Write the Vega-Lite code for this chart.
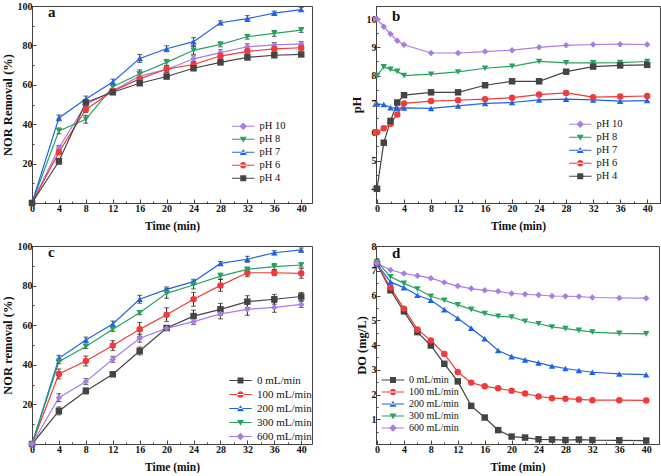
{
"$schema": "https://vega.github.io/schema/vega-lite/v6.json",
"padding": {"left": 0, "top": 0, "right": 0, "bottom": 0},
"columns": 2,
"bounds": "flush",
"spacing": {"row": 43, "column": 64},
"config": {
  "font": "Liberation Serif",
  "view": {"stroke": "#444", "strokeWidth": 1},
  "axis": {"grid": false, "labelFont": "Liberation Serif", "labelFontWeight": "bold", "labelFontSize": 10, "labelColor": "#111", "titleFont": "Liberation Serif", "titleFontWeight": "bold", "titleColor": "#111", "domainColor": "#444", "tickColor": "#444", "labelFlush": false, "labelOverlap": false, "labelBound": false},
  "axisX": {"titleFontSize": 11.5, "labelPadding": 4, "titlePadding": 5},
  "axisY": {"titleFontSize": 12.5, "labelPadding": 4, "titlePadding": 3},
  "legend": {"labelFont": "Liberation Serif", "labelColor": "#111", "title": null, "padding": 0, "symbolStrokeWidth": 0, "symbolSize": 49, "labelOffset": 11, "rowPadding": 2},
  "title": {"font": "Liberation Serif", "fontWeight": "bold", "fontSize": 15, "color": "#111", "anchor": "start", "frame": "group"}
},
"datasets": {
"a": [
{"s":"pH 10","t":0,"v":0,"e":0},{"s":"pH 10","t":4,"v":28,"e":1.2},{"s":"pH 10","t":8,"v":50,"e":1.5},{"s":"pH 10","t":12,"v":57,"e":1},{"s":"pH 10","t":16,"v":64.4,"e":1.5},{"s":"pH 10","t":20,"v":67.8,"e":1.5},{"s":"pH 10","t":24,"v":73.2,"e":1.5},{"s":"pH 10","t":28,"v":76.3,"e":1.5},{"s":"pH 10","t":32,"v":79.3,"e":1.5},{"s":"pH 10","t":36,"v":80.3,"e":1.2},{"s":"pH 10","t":40,"v":80.8,"e":1.2},
{"s":"pH 8","t":0,"v":0,"e":0},{"s":"pH 8","t":4,"v":36.6,"e":1.5},{"s":"pH 8","t":8,"v":42.5,"e":2},{"s":"pH 8","t":12,"v":59,"e":1},{"s":"pH 8","t":16,"v":65.6,"e":2},{"s":"pH 8","t":20,"v":71.4,"e":1.5},{"s":"pH 8","t":24,"v":77.5,"e":2},{"s":"pH 8","t":28,"v":80.5,"e":1.2},{"s":"pH 8","t":32,"v":84.4,"e":1.2},{"s":"pH 8","t":36,"v":86.1,"e":1.5},{"s":"pH 8","t":40,"v":87.8,"e":1.2},
{"s":"pH 7","t":0,"v":0,"e":0},{"s":"pH 7","t":4,"v":43.2,"e":1.5},{"s":"pH 7","t":8,"v":52.8,"e":1.5},{"s":"pH 7","t":12,"v":61.4,"e":1.5},{"s":"pH 7","t":16,"v":73.4,"e":2},{"s":"pH 7","t":20,"v":78.3,"e":1.5},{"s":"pH 7","t":24,"v":81.9,"e":2},{"s":"pH 7","t":28,"v":91.5,"e":1},{"s":"pH 7","t":32,"v":93.6,"e":1.5},{"s":"pH 7","t":36,"v":96.4,"e":1},{"s":"pH 7","t":40,"v":98.2,"e":1},
{"s":"pH 6","t":0,"v":0,"e":0},{"s":"pH 6","t":4,"v":25.8,"e":1.2},{"s":"pH 6","t":8,"v":47.5,"e":1.5},{"s":"pH 6","t":12,"v":56.8,"e":1},{"s":"pH 6","t":16,"v":63,"e":1.2},{"s":"pH 6","t":20,"v":68,"e":1.5},{"s":"pH 6","t":24,"v":70.3,"e":1.5},{"s":"pH 6","t":28,"v":74.6,"e":1.5},{"s":"pH 6","t":32,"v":77,"e":1.5},{"s":"pH 6","t":36,"v":78.2,"e":1.2},{"s":"pH 6","t":40,"v":78.8,"e":1.2},
{"s":"pH 4","t":0,"v":0,"e":0},{"s":"pH 4","t":4,"v":21.2,"e":1.5},{"s":"pH 4","t":8,"v":51,"e":1.5},{"s":"pH 4","t":12,"v":56.2,"e":1},{"s":"pH 4","t":16,"v":60.8,"e":1},{"s":"pH 4","t":20,"v":64.2,"e":1.2},{"s":"pH 4","t":24,"v":68.4,"e":1.2},{"s":"pH 4","t":28,"v":71.4,"e":1.2},{"s":"pH 4","t":32,"v":73.9,"e":1.2},{"s":"pH 4","t":36,"v":75,"e":1},{"s":"pH 4","t":40,"v":75.4,"e":1}
],
"b": [
{"s":"pH 10","t":0,"v":10},{"s":"pH 10","t":1,"v":9.73},{"s":"pH 10","t":2,"v":9.47},{"s":"pH 10","t":3,"v":9.23},{"s":"pH 10","t":4,"v":9.09},{"s":"pH 10","t":8,"v":8.8},{"s":"pH 10","t":12,"v":8.8},{"s":"pH 10","t":16,"v":8.85},{"s":"pH 10","t":20,"v":8.9},{"s":"pH 10","t":24,"v":9.0},{"s":"pH 10","t":28,"v":9.07},{"s":"pH 10","t":32,"v":9.1},{"s":"pH 10","t":36,"v":9.11},{"s":"pH 10","t":40,"v":9.1},
{"s":"pH 8","t":0,"v":8.0},{"s":"pH 8","t":1,"v":8.31},{"s":"pH 8","t":2,"v":8.22},{"s":"pH 8","t":3,"v":8.15},{"s":"pH 8","t":4,"v":8.0},{"s":"pH 8","t":8,"v":8.05},{"s":"pH 8","t":12,"v":8.13},{"s":"pH 8","t":16,"v":8.26},{"s":"pH 8","t":20,"v":8.33},{"s":"pH 8","t":24,"v":8.5},{"s":"pH 8","t":28,"v":8.45},{"s":"pH 8","t":32,"v":8.45},{"s":"pH 8","t":36,"v":8.46},{"s":"pH 8","t":40,"v":8.5},
{"s":"pH 7","t":0,"v":7.0},{"s":"pH 7","t":1,"v":6.98},{"s":"pH 7","t":2,"v":6.87},{"s":"pH 7","t":3,"v":6.85},{"s":"pH 7","t":4,"v":6.86},{"s":"pH 7","t":8,"v":6.84},{"s":"pH 7","t":12,"v":6.93},{"s":"pH 7","t":16,"v":7.02},{"s":"pH 7","t":20,"v":7.05},{"s":"pH 7","t":24,"v":7.14},{"s":"pH 7","t":28,"v":7.17},{"s":"pH 7","t":32,"v":7.14},{"s":"pH 7","t":36,"v":7.1},{"s":"pH 7","t":40,"v":7.12},
{"s":"pH 6","t":0,"v":6.0},{"s":"pH 6","t":1,"v":6.14},{"s":"pH 6","t":2,"v":6.3},{"s":"pH 6","t":3,"v":6.63},{"s":"pH 6","t":4,"v":7.02},{"s":"pH 6","t":8,"v":7.1},{"s":"pH 6","t":12,"v":7.13},{"s":"pH 6","t":16,"v":7.17},{"s":"pH 6","t":20,"v":7.22},{"s":"pH 6","t":24,"v":7.33},{"s":"pH 6","t":28,"v":7.39},{"s":"pH 6","t":32,"v":7.24},{"s":"pH 6","t":36,"v":7.26},{"s":"pH 6","t":40,"v":7.28},
{"s":"pH 4","t":0,"v":4.0},{"s":"pH 4","t":1,"v":5.63},{"s":"pH 4","t":2,"v":6.4},{"s":"pH 4","t":3,"v":7.05},{"s":"pH 4","t":4,"v":7.31},{"s":"pH 4","t":8,"v":7.41},{"s":"pH 4","t":12,"v":7.41},{"s":"pH 4","t":16,"v":7.66},{"s":"pH 4","t":20,"v":7.8},{"s":"pH 4","t":24,"v":7.8},{"s":"pH 4","t":28,"v":8.14},{"s":"pH 4","t":32,"v":8.32},{"s":"pH 4","t":36,"v":8.36},{"s":"pH 4","t":40,"v":8.38}
],
"c": [
{"s":"0 mL/min","t":0,"v":0,"e":0},{"s":"0 mL/min","t":4,"v":16.7,"e":2},{"s":"0 mL/min","t":8,"v":26.8,"e":1.5},{"s":"0 mL/min","t":12,"v":35.2,"e":1},{"s":"0 mL/min","t":16,"v":47,"e":2},{"s":"0 mL/min","t":20,"v":58.6,"e":1.2},{"s":"0 mL/min","t":24,"v":64.6,"e":3},{"s":"0 mL/min","t":28,"v":68,"e":3},{"s":"0 mL/min","t":32,"v":71.9,"e":3},{"s":"0 mL/min","t":36,"v":73.1,"e":2.5},{"s":"0 mL/min","t":40,"v":74.5,"e":2},
{"s":"100 mL/min","t":0,"v":0,"e":0},{"s":"100 mL/min","t":4,"v":35.4,"e":2.5},{"s":"100 mL/min","t":8,"v":41.9,"e":2.5},{"s":"100 mL/min","t":12,"v":49.7,"e":2.5},{"s":"100 mL/min","t":16,"v":57.9,"e":3.5},{"s":"100 mL/min","t":20,"v":65.3,"e":3.5},{"s":"100 mL/min","t":24,"v":73.1,"e":3.5},{"s":"100 mL/min","t":28,"v":80.1,"e":3},{"s":"100 mL/min","t":32,"v":86.5,"e":2},{"s":"100 mL/min","t":36,"v":86.5,"e":1.5},{"s":"100 mL/min","t":40,"v":86.2,"e":2.5},
{"s":"200 mL/min","t":0,"v":0,"e":0},{"s":"200 mL/min","t":4,"v":43.3,"e":1.5},{"s":"200 mL/min","t":8,"v":52.5,"e":1.5},{"s":"200 mL/min","t":12,"v":60.6,"e":1.5},{"s":"200 mL/min","t":16,"v":73.1,"e":2},{"s":"200 mL/min","t":20,"v":78.1,"e":1.2},{"s":"200 mL/min","t":24,"v":82,"e":1.2},{"s":"200 mL/min","t":28,"v":91.2,"e":1},{"s":"200 mL/min","t":32,"v":93.3,"e":1.5},{"s":"200 mL/min","t":36,"v":96.6,"e":1},{"s":"200 mL/min","t":40,"v":98,"e":1},
{"s":"300 mL/min","t":0,"v":0,"e":0},{"s":"300 mL/min","t":4,"v":41.6,"e":1},{"s":"300 mL/min","t":8,"v":49.2,"e":1},{"s":"300 mL/min","t":12,"v":57.9,"e":1},{"s":"300 mL/min","t":16,"v":66.3,"e":1},{"s":"300 mL/min","t":20,"v":76.1,"e":2.5},{"s":"300 mL/min","t":24,"v":80.3,"e":2},{"s":"300 mL/min","t":28,"v":84.8,"e":1.5},{"s":"300 mL/min","t":32,"v":88.2,"e":1},{"s":"300 mL/min","t":36,"v":89.6,"e":1.5},{"s":"300 mL/min","t":40,"v":90.4,"e":1},
{"s":"600 mL/min","t":0,"v":0,"e":0},{"s":"600 mL/min","t":4,"v":23.4,"e":2},{"s":"600 mL/min","t":8,"v":31.5,"e":1.5},{"s":"600 mL/min","t":12,"v":42.8,"e":1.5},{"s":"600 mL/min","t":16,"v":53.4,"e":2},{"s":"600 mL/min","t":20,"v":58.4,"e":1},{"s":"600 mL/min","t":24,"v":61.8,"e":1.5},{"s":"600 mL/min","t":28,"v":65.7,"e":2.5},{"s":"600 mL/min","t":32,"v":68,"e":3},{"s":"600 mL/min","t":36,"v":69,"e":2.5},{"s":"600 mL/min","t":40,"v":70.5,"e":1.5}
],
"d": [
{"s":"0 mL/min","t":0,"v":7.27},{"s":"0 mL/min","t":2,"v":6.21},{"s":"0 mL/min","t":4,"v":5.36},{"s":"0 mL/min","t":6,"v":4.52},{"s":"0 mL/min","t":8,"v":3.98},{"s":"0 mL/min","t":10,"v":3.24},{"s":"0 mL/min","t":12,"v":2.53},{"s":"0 mL/min","t":14,"v":1.54},{"s":"0 mL/min","t":16,"v":1.07},{"s":"0 mL/min","t":18,"v":0.56},{"s":"0 mL/min","t":20,"v":0.3},{"s":"0 mL/min","t":22,"v":0.26},{"s":"0 mL/min","t":24,"v":0.19},{"s":"0 mL/min","t":26,"v":0.18},{"s":"0 mL/min","t":28,"v":0.16},{"s":"0 mL/min","t":30,"v":0.18},{"s":"0 mL/min","t":32,"v":0.16},{"s":"0 mL/min","t":36,"v":0.15},{"s":"0 mL/min","t":40,"v":0.14},
{"s":"100 mL/min","t":0,"v":7.27},{"s":"100 mL/min","t":2,"v":6.32},{"s":"100 mL/min","t":4,"v":5.47},{"s":"100 mL/min","t":6,"v":4.63},{"s":"100 mL/min","t":8,"v":4.18},{"s":"100 mL/min","t":10,"v":3.64},{"s":"100 mL/min","t":12,"v":2.91},{"s":"100 mL/min","t":14,"v":2.48},{"s":"100 mL/min","t":16,"v":2.33},{"s":"100 mL/min","t":18,"v":2.25},{"s":"100 mL/min","t":20,"v":2.15},{"s":"100 mL/min","t":22,"v":2.04},{"s":"100 mL/min","t":24,"v":1.92},{"s":"100 mL/min","t":26,"v":1.85},{"s":"100 mL/min","t":28,"v":1.83},{"s":"100 mL/min","t":30,"v":1.8},{"s":"100 mL/min","t":32,"v":1.77},{"s":"100 mL/min","t":36,"v":1.77},{"s":"100 mL/min","t":40,"v":1.76},
{"s":"200 mL/min","t":0,"v":7.27},{"s":"200 mL/min","t":2,"v":6.55},{"s":"200 mL/min","t":4,"v":6.32},{"s":"200 mL/min","t":6,"v":6.01},{"s":"200 mL/min","t":8,"v":5.81},{"s":"200 mL/min","t":10,"v":5.43},{"s":"200 mL/min","t":12,"v":5.08},{"s":"200 mL/min","t":14,"v":4.68},{"s":"200 mL/min","t":16,"v":4.25},{"s":"200 mL/min","t":18,"v":3.78},{"s":"200 mL/min","t":20,"v":3.53},{"s":"200 mL/min","t":22,"v":3.4},{"s":"200 mL/min","t":24,"v":3.28},{"s":"200 mL/min","t":26,"v":3.15},{"s":"200 mL/min","t":28,"v":3.05},{"s":"200 mL/min","t":30,"v":2.97},{"s":"200 mL/min","t":32,"v":2.9},{"s":"200 mL/min","t":36,"v":2.83},{"s":"200 mL/min","t":40,"v":2.8},
{"s":"300 mL/min","t":0,"v":7.37},{"s":"300 mL/min","t":2,"v":6.76},{"s":"300 mL/min","t":4,"v":6.49},{"s":"300 mL/min","t":6,"v":6.26},{"s":"300 mL/min","t":8,"v":5.97},{"s":"300 mL/min","t":10,"v":5.81},{"s":"300 mL/min","t":12,"v":5.62},{"s":"300 mL/min","t":14,"v":5.44},{"s":"300 mL/min","t":16,"v":5.27},{"s":"300 mL/min","t":18,"v":5.16},{"s":"300 mL/min","t":20,"v":5.13},{"s":"300 mL/min","t":22,"v":4.96},{"s":"300 mL/min","t":24,"v":4.86},{"s":"300 mL/min","t":26,"v":4.73},{"s":"300 mL/min","t":28,"v":4.66},{"s":"300 mL/min","t":30,"v":4.59},{"s":"300 mL/min","t":32,"v":4.52},{"s":"300 mL/min","t":36,"v":4.47},{"s":"300 mL/min","t":40,"v":4.45},
{"s":"600 mL/min","t":0,"v":7.3},{"s":"600 mL/min","t":2,"v":7.03},{"s":"600 mL/min","t":4,"v":6.89},{"s":"600 mL/min","t":6,"v":6.8},{"s":"600 mL/min","t":8,"v":6.7},{"s":"600 mL/min","t":10,"v":6.53},{"s":"600 mL/min","t":12,"v":6.38},{"s":"600 mL/min","t":14,"v":6.28},{"s":"600 mL/min","t":16,"v":6.21},{"s":"600 mL/min","t":18,"v":6.17},{"s":"600 mL/min","t":20,"v":6.08},{"s":"600 mL/min","t":22,"v":6.05},{"s":"600 mL/min","t":24,"v":6.02},{"s":"600 mL/min","t":26,"v":5.98},{"s":"600 mL/min","t":28,"v":5.97},{"s":"600 mL/min","t":30,"v":5.96},{"s":"600 mL/min","t":32,"v":5.92},{"s":"600 mL/min","t":36,"v":5.9},{"s":"600 mL/min","t":40,"v":5.89}
]
},
"concat": [
{
 "width": 280, "height": 197,
 "title": {"text": "a", "offset": -19, "dx": 16},
 "data": {"name": "a"},
 "encoding": {
  "x": {"field": "t", "type": "quantitative", "title": "Time (min)", "scale": {"domain": [0, 41.6], "nice": false, "zero": false}, "axis": {"values": [0,2,4,6,8,10,12,14,16,18,20,22,24,26,28,30,32,34,36,38,40], "labelExpr": "datum.value % 4 === 0 ? datum.label : ''", "tickSize": {"condition": {"test": "datum.value % 4 === 0", "value": -4}, "value": -2}}},
  "y": {"field": "v", "type": "quantitative", "title": "NOR Removal (%)", "scale": {"domain": [0, 100], "nice": false}, "axis": {"values": [0,10,20,30,40,50,60,70,80,90,100], "labelExpr": "datum.value % 20 === 0 && datum.value > 0 ? datum.label : ''", "tickSize": {"condition": {"test": "datum.value % 20 === 0", "value": -4}, "value": -2}}}
 },
 "layer": [
  {"mark": {"type": "line", "strokeWidth": 1.2}, "encoding": {"color": {"field": "s", "type": "nominal", "scale": {"domain": ["pH 10","pH 8","pH 7","pH 6","pH 4"], "range": ["#A97CE4","#27A25F","#1F64E6","#F23A3A","#444444"]}, "legend": null}}},
  {"mark": {"type": "errorbar", "ticks": true, "color": "#222", "thickness": 1}, "encoding": {"yError": {"field": "e"}}},
  {"mark": {"type": "point", "filled": true, "size": 42, "opacity": 1}, "encoding": {"color": {"field": "s", "type": "nominal", "scale": {"domain": ["pH 10","pH 8","pH 7","pH 6","pH 4"], "range": ["#A97CE4","#27A25F","#1F64E6","#F23A3A","#444444"]}, "legend": null}, "shape": {"field": "s", "type": "nominal", "scale": {"domain": ["pH 10","pH 8","pH 7","pH 6","pH 4"], "range": ["diamond","triangle-down","triangle-up","circle","square"]}, "legend": null}}},
  {"transform": [{"filter": "false"}], "mark": {"type": "point", "filled": true, "opacity": 1}, "encoding": {
    "color": {"field": "s", "type": "nominal", "scale": {"domain": ["pH 10","pH 8","pH 7","pH 6","pH 4"], "range": ["#A97CE4","#27A25F","#1F64E6","#F23A3A","#444444"]}, "legend": {"orient": "none", "legendX": 206, "legendY": 115, "labelFontSize": 10.5}},
    "shape": {"field": "s", "type": "nominal", "scale": {"domain": ["pH 10","pH 8","pH 7","pH 6","pH 4"], "range": ["M-3.2,-0.17L3.2,-0.17L3.2,0.17L-3.2,0.17Z M0,-1.1L1.1,0L0,1.1L-1.1,0Z", "M-3.2,-0.17L3.2,-0.17L3.2,0.17L-3.2,0.17Z M-1,-0.75L1,-0.75L0,0.95Z", "M-3.2,-0.17L3.2,-0.17L3.2,0.17L-3.2,0.17Z M-1,0.75L1,0.75L0,-0.95Z", "M-3.2,-0.17L3.2,-0.17L3.2,0.17L-3.2,0.17Z M-0.95,0A0.95,0.95 0 1,0 0.95,0A0.95,0.95 0 1,0 -0.95,0Z", "M-3.2,-0.17L3.2,-0.17L3.2,0.17L-3.2,0.17Z M-0.85,-0.85L0.85,-0.85L0.85,0.85L-0.85,0.85Z"]}, "legend": {"orient": "none", "legendX": 206, "legendY": 115, "labelFontSize": 10.5}}
  }}
 ],
 "resolve": {"scale": {"color": "independent", "shape": "independent"}}
},
{
 "width": 284, "height": 197,
 "title": {"text": "b", "offset": -18, "dx": 16},
 "data": {"name": "b"},
 "encoding": {
  "x": {"field": "t", "type": "quantitative", "title": "Time (min)", "scale": {"domain": [-0.15, 41.9], "nice": false, "zero": false}, "axis": {"values": [0,2,4,6,8,10,12,14,16,18,20,22,24,26,28,30,32,34,36,38,40], "labelExpr": "datum.value % 4 === 0 ? datum.label : ''", "tickSize": {"condition": {"test": "datum.value % 4 === 0", "value": -4}, "value": -2}}},
  "y": {"field": "v", "type": "quantitative", "title": "pH", "scale": {"domain": [3.5, 10.46], "nice": false, "zero": false}, "axis": {"values": [4,4.5,5,5.5,6,6.5,7,7.5,8,8.5,9,9.5,10], "labelExpr": "datum.value % 1 === 0 ? format(datum.value, 'd') : ''", "tickSize": {"condition": {"test": "datum.value % 1 === 0", "value": -4}, "value": -2}}}
 },
 "layer": [
  {"mark": {"type": "line", "strokeWidth": 1.2}, "encoding": {"color": {"field": "s", "type": "nominal", "scale": {"domain": ["pH 10","pH 8","pH 7","pH 6","pH 4"], "range": ["#A97CE4","#27A25F","#1F64E6","#F23A3A","#444444"]}, "legend": null}}},
  {"mark": {"type": "point", "filled": true, "size": 42, "opacity": 1}, "encoding": {"color": {"field": "s", "type": "nominal", "scale": {"domain": ["pH 10","pH 8","pH 7","pH 6","pH 4"], "range": ["#A97CE4","#27A25F","#1F64E6","#F23A3A","#444444"]}, "legend": null}, "shape": {"field": "s", "type": "nominal", "scale": {"domain": ["pH 10","pH 8","pH 7","pH 6","pH 4"], "range": ["diamond","triangle-down","triangle-up","circle","square"]}, "legend": null}}},
  {"transform": [{"filter": "false"}], "mark": {"type": "point", "filled": true, "opacity": 1}, "encoding": {
    "color": {"field": "s", "type": "nominal", "scale": {"domain": ["pH 10","pH 8","pH 7","pH 6","pH 4"], "range": ["#A97CE4","#27A25F","#1F64E6","#F23A3A","#444444"]}, "legend": {"orient": "none", "legendX": 199, "legendY": 113, "labelFontSize": 10.5}},
    "shape": {"field": "s", "type": "nominal", "scale": {"domain": ["pH 10","pH 8","pH 7","pH 6","pH 4"], "range": ["M-3.2,-0.17L3.2,-0.17L3.2,0.17L-3.2,0.17Z M0,-1.1L1.1,0L0,1.1L-1.1,0Z", "M-3.2,-0.17L3.2,-0.17L3.2,0.17L-3.2,0.17Z M-1,-0.75L1,-0.75L0,0.95Z", "M-3.2,-0.17L3.2,-0.17L3.2,0.17L-3.2,0.17Z M-1,0.75L1,0.75L0,-0.95Z", "M-3.2,-0.17L3.2,-0.17L3.2,0.17L-3.2,0.17Z M-0.95,0A0.95,0.95 0 1,0 0.95,0A0.95,0.95 0 1,0 -0.95,0Z", "M-3.2,-0.17L3.2,-0.17L3.2,0.17L-3.2,0.17Z M-0.85,-0.85L0.85,-0.85L0.85,0.85L-0.85,0.85Z"]}, "legend": {"orient": "none", "legendX": 199, "legendY": 113, "labelFontSize": 10.5}}
  }}
 ],
 "resolve": {"scale": {"color": "independent", "shape": "independent"}}
},
{
 "width": 280, "height": 198,
 "title": {"text": "c", "offset": -19, "dx": 16},
 "data": {"name": "c"},
 "encoding": {
  "x": {"field": "t", "type": "quantitative", "title": "Time (min)", "scale": {"domain": [0, 41.6], "nice": false, "zero": false}, "axis": {"values": [0,2,4,6,8,10,12,14,16,18,20,22,24,26,28,30,32,34,36,38,40], "labelExpr": "datum.value % 4 === 0 ? datum.label : ''", "tickSize": {"condition": {"test": "datum.value % 4 === 0", "value": -4}, "value": -2}}},
  "y": {"field": "v", "type": "quantitative", "title": "NOR removal (%)", "scale": {"domain": [0, 100], "nice": false}, "axis": {"values": [0,10,20,30,40,50,60,70,80,90,100], "labelExpr": "datum.value % 20 === 0 && datum.value > 0 ? datum.label : ''", "tickSize": {"condition": {"test": "datum.value % 20 === 0", "value": -4}, "value": -2}}}
 },
 "layer": [
  {"mark": {"type": "line", "strokeWidth": 1.2}, "encoding": {"color": {"field": "s", "type": "nominal", "scale": {"domain": ["0 mL/min","100 mL/min","200 mL/min","300 mL/min","600 mL/min"], "range": ["#444444","#F23A3A","#1F64E6","#27A25F","#A97CE4"]}, "legend": null}}},
  {"mark": {"type": "errorbar", "ticks": true, "color": "#222", "thickness": 1}, "encoding": {"yError": {"field": "e"}}},
  {"mark": {"type": "point", "filled": true, "size": 42, "opacity": 1}, "encoding": {"color": {"field": "s", "type": "nominal", "scale": {"domain": ["0 mL/min","100 mL/min","200 mL/min","300 mL/min","600 mL/min"], "range": ["#444444","#F23A3A","#1F64E6","#27A25F","#A97CE4"]}, "legend": null}, "shape": {"field": "s", "type": "nominal", "scale": {"domain": ["0 mL/min","100 mL/min","200 mL/min","300 mL/min","600 mL/min"], "range": ["square","circle","triangle-up","triangle-down","diamond"]}, "legend": null}}},
  {"transform": [{"filter": "false"}], "mark": {"type": "point", "filled": true, "opacity": 1}, "encoding": {
    "color": {"field": "s", "type": "nominal", "scale": {"domain": ["0 mL/min","100 mL/min","200 mL/min","300 mL/min","600 mL/min"], "range": ["#444444","#F23A3A","#1F64E6","#27A25F","#A97CE4"]}, "legend": {"orient": "none", "legendX": 203, "legendY": 129, "labelFontSize": 11}},
    "shape": {"field": "s", "type": "nominal", "scale": {"domain": ["0 mL/min","100 mL/min","200 mL/min","300 mL/min","600 mL/min"], "range": ["M-3.2,-0.17L3.2,-0.17L3.2,0.17L-3.2,0.17Z M-0.85,-0.85L0.85,-0.85L0.85,0.85L-0.85,0.85Z", "M-3.2,-0.17L3.2,-0.17L3.2,0.17L-3.2,0.17Z M-0.95,0A0.95,0.95 0 1,0 0.95,0A0.95,0.95 0 1,0 -0.95,0Z", "M-3.2,-0.17L3.2,-0.17L3.2,0.17L-3.2,0.17Z M-1,0.75L1,0.75L0,-0.95Z", "M-3.2,-0.17L3.2,-0.17L3.2,0.17L-3.2,0.17Z M-1,-0.75L1,-0.75L0,0.95Z", "M-3.2,-0.17L3.2,-0.17L3.2,0.17L-3.2,0.17Z M0,-1.1L1.1,0L0,1.1L-1.1,0Z"]}, "legend": {"orient": "none", "legendX": 203, "legendY": 129, "labelFontSize": 11}}
  }}
 ],
 "resolve": {"scale": {"color": "independent", "shape": "independent"}}
},
{
 "width": 283, "height": 198,
 "title": {"text": "d", "offset": -20, "dx": 16},
 "data": {"name": "d"},
 "encoding": {
  "x": {"field": "t", "type": "quantitative", "title": "Time (min)", "scale": {"domain": [-0.15, 41.9], "nice": false, "zero": false}, "axis": {"values": [0,2,4,6,8,10,12,14,16,18,20,22,24,26,28,30,32,34,36,38,40], "labelExpr": "datum.value % 4 === 0 ? datum.label : ''", "tickSize": {"condition": {"test": "datum.value % 4 === 0", "value": -4}, "value": -2}}},
  "y": {"field": "v", "type": "quantitative", "title": "DO (mg/L)", "scale": {"domain": [0, 8], "nice": false}, "axis": {"values": [0,0.5,1,1.5,2,2.5,3,3.5,4,4.5,5,5.5,6,6.5,7,7.5,8], "labelExpr": "datum.value % 1 === 0 && datum.value > 0 ? format(datum.value, 'd') : ''", "tickSize": {"condition": {"test": "datum.value % 1 === 0", "value": -4}, "value": -2}}}
 },
 "layer": [
  {"mark": {"type": "line", "strokeWidth": 1.2}, "encoding": {"color": {"field": "s", "type": "nominal", "scale": {"domain": ["0 mL/min","100 mL/min","200 mL/min","300 mL/min","600 mL/min"], "range": ["#444444","#F23A3A","#1F64E6","#27A25F","#A97CE4"]}, "legend": null}}},
  {"mark": {"type": "point", "filled": true, "size": 42, "opacity": 1}, "encoding": {"color": {"field": "s", "type": "nominal", "scale": {"domain": ["0 mL/min","100 mL/min","200 mL/min","300 mL/min","600 mL/min"], "range": ["#444444","#F23A3A","#1F64E6","#27A25F","#A97CE4"]}, "legend": null}, "shape": {"field": "s", "type": "nominal", "scale": {"domain": ["0 mL/min","100 mL/min","200 mL/min","300 mL/min","600 mL/min"], "range": ["square","circle","triangle-up","triangle-down","diamond"]}, "legend": null}}},
  {"transform": [{"filter": "false"}], "mark": {"type": "point", "filled": true, "opacity": 1}, "encoding": {
    "color": {"field": "s", "type": "nominal", "scale": {"domain": ["0 mL/min","100 mL/min","200 mL/min","300 mL/min","600 mL/min"], "range": ["#444444","#F23A3A","#1F64E6","#27A25F","#A97CE4"]}, "legend": {"orient": "none", "legendX": 12, "legendY": 129, "labelFontSize": 10}},
    "shape": {"field": "s", "type": "nominal", "scale": {"domain": ["0 mL/min","100 mL/min","200 mL/min","300 mL/min","600 mL/min"], "range": ["M-3.2,-0.17L3.2,-0.17L3.2,0.17L-3.2,0.17Z M-0.85,-0.85L0.85,-0.85L0.85,0.85L-0.85,0.85Z", "M-3.2,-0.17L3.2,-0.17L3.2,0.17L-3.2,0.17Z M-0.95,0A0.95,0.95 0 1,0 0.95,0A0.95,0.95 0 1,0 -0.95,0Z", "M-3.2,-0.17L3.2,-0.17L3.2,0.17L-3.2,0.17Z M-1,0.75L1,0.75L0,-0.95Z", "M-3.2,-0.17L3.2,-0.17L3.2,0.17L-3.2,0.17Z M-1,-0.75L1,-0.75L0,0.95Z", "M-3.2,-0.17L3.2,-0.17L3.2,0.17L-3.2,0.17Z M0,-1.1L1.1,0L0,1.1L-1.1,0Z"]}, "legend": {"orient": "none", "legendX": 12, "legendY": 129, "labelFontSize": 10}}
  }}
 ],
 "resolve": {"scale": {"color": "independent", "shape": "independent"}}
}
]
}
